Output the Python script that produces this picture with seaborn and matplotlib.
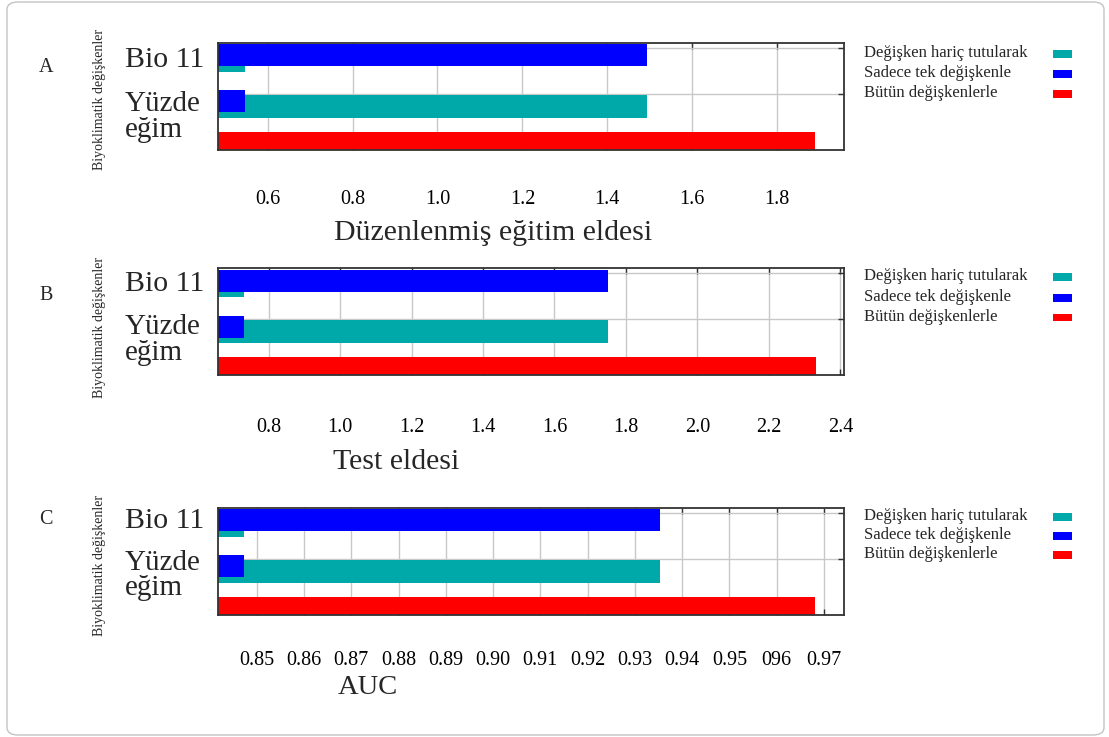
import matplotlib
matplotlib.use("Agg")
import matplotlib.pyplot as plt
from matplotlib.patches import Rectangle, FancyBboxPatch
import seaborn as sns

# ---- data -----------------------------------------------------------------
variables = ["Bio 11", "Yüzde eğim"]
panel_letters = ["A", "B", "C"]
metric_labels = ["Düzenlenmiş eğitim eldesi", "Test eldesi", "AUC"]
series_names = ["Değişken hariç tutularak", "Sadece tek değişkenle", "Bütün değişkenlerle"]
y_axis_title = "Biyoklimatik değişkenler"

# regularized training gain
train_without = [0.546, 1.494]
train_only = [1.494, 0.546]
train_all = 1.890
train_ticks = [0.6, 0.8, 1.0, 1.2, 1.4, 1.6, 1.8]
train_ticklabels = ["0.6", "0.8", "1.0", "1.2", "1.4", "1.6", "1.8"]

# test gain
test_without = [0.732, 1.751]
test_only = [1.751, 0.732]
test_all = 2.333
test_ticks = [0.8, 1.0, 1.2, 1.4, 1.6, 1.8, 2.0, 2.2, 2.4]
test_ticklabels = ["0.8", "1.0", "1.2", "1.4", "1.6", "1.8", "2.0", "2.2", "2.4"]

# AUC
auc_without = [0.8474, 0.9353]
auc_only = [0.9353, 0.8474]
auc_all = 0.9682
auc_ticks = [0.85, 0.86, 0.87, 0.88, 0.89, 0.90, 0.91, 0.92, 0.93, 0.94, 0.95, 0.96, 0.97]
auc_ticklabels = ["0.85", "0.86", "0.87", "0.88", "0.89", "0.90", "0.91",
                  "0.92", "0.93", "0.94", "0.95", "096", "0.97"]

# ---- style ----------------------------------------------------------------
sns.set_style("white")
plt.rcParams["font.family"] = ["Liberation Serif", "DejaVu Serif"]

TEAL = "#00a9a9"
BLUE = "#0000ff"
RED = "#ff0000"
FRAME = "#333333"
GRID = "#c8c8c8"

W, H = 1109, 737
fig = plt.figure(figsize=(W / 100, H / 100), dpi=100)
fig.patch.set_facecolor("white")


def fx(px):
    return px / W


def fy(py):
    return 1 - py / H


# outer rounded frame
fig.patches.append(FancyBboxPatch((fx(7), fy(735)), fx(1104) - fx(7), fy(2) - fy(735),
                                  boxstyle="round,pad=0,rounding_size=0.01",
                                  transform=fig.transFigure, facecolor="none",
                                  edgecolor="#c4c4c4", linewidth=1.0))

panels = [
    dict(top=42.5, without=train_without, only=train_only, all=train_all,
         ticks=train_ticks, ticklabels=train_ticklabels, xlim=(0.482, 1.958),
         pad=29, xlabel_pos=(493, 233), xlabel_size=21.5,
         names_y=(67, 111, 137), legend_y=(53, 73, 93), ylab_y=99, letter_y=67),
    dict(top=268, without=test_without, only=test_only, all=test_all,
         ticks=test_ticks, ticklabels=test_ticklabels, xlim=(0.657, 2.411),
         pad=31, xlabel_pos=(396, 462), xlabel_size=21.5,
         names_y=(291, 334, 360), legend_y=(276, 297, 317), ylab_y=327, letter_y=296),
    dict(top=507.5, without=auc_without, only=auc_only, all=auc_all,
         ticks=auc_ticks, ticklabels=auc_ticklabels, xlim=(0.8417, 0.9743),
         pad=26.5, xlabel_pos=(368, 688), xlabel_size=20.5,
         names_y=(528, 570, 595), legend_y=(516, 535, 554), ylab_y=565, letter_y=519),
]

LEFT, RIGHT, PH = 217.5, 844.3, 107
row_centers = [14, 60]      # vertical centres of the two variable rows (pixel units)
red_center, red_height = 98, 18

for i, p in enumerate(panels):
    top = p["top"]
    ax = fig.add_axes([fx(LEFT), fy(top + PH), fx(RIGHT) - fx(LEFT), PH / H])
    ax.set_xlim(*p["xlim"])
    ax.set_ylim(PH, 0)
    ax.set_axisbelow(True)

    # variable-excluded (teal) under single-variable (blue) bars
    for c, v in zip(row_centers, p["without"]):
        ax.barh(c + 3.5, v, height=23, color=TEAL, linewidth=0)
    for c, v in zip(row_centers, p["only"]):
        ax.barh(c - 1.5, v, height=22, color=BLUE, linewidth=0)
    ax.barh(red_center, p["all"], height=red_height, color=RED, linewidth=0)

    ax.set_xticks(p["ticks"])
    ax.set_xticklabels(p["ticklabels"])
    ax.set_yticks([c - 9 for c in row_centers])
    ax.set_yticklabels([])
    ax.grid(True, color=GRID, linewidth=1.0)
    ax.tick_params(axis="x", which="both", direction="in", length=4, width=1,
                   color=FRAME, top=True, bottom=True, labelsize=14.5,
                   pad=p["pad"], labelcolor="black")
    ax.tick_params(axis="y", direction="in", length=4, width=1, color=FRAME,
                   left=False, right=True)
    for s in ax.spines.values():
        s.set_color(FRAME)
        s.set_linewidth(1.3)
        s.set_visible(True)

    # metric title under the ticks
    fig.text(fx(p["xlabel_pos"][0]), fy(p["xlabel_pos"][1]), metric_labels[i],
             ha="center", va="center", fontsize=p["xlabel_size"])

    # variable names
    y1, y2, y3 = p["names_y"]
    fig.text(fx(125), fy(y1), variables[0], ha="left", va="baseline", fontsize=21.5)
    name_a, name_b = variables[1].split(" ")
    fig.text(fx(125), fy(y2), name_a, ha="left", va="baseline", fontsize=21)
    fig.text(fx(125), fy(y3), name_b, ha="left", va="baseline", fontsize=21)

    # axis title and panel letter
    fig.text(fx(100), fy(p["ylab_y"]), y_axis_title, rotation=90,
             ha="center", va="center", fontsize=10)
    fig.text(fx(46), fy(p["letter_y"]), panel_letters[i], ha="center", va="center",
             fontsize=14.5)

    # legend: text on the left, swatch on the right
    for name, col, ly in zip(series_names, [TEAL, BLUE, RED], p["legend_y"]):
        fig.text(fx(864), fy(ly), name, ha="left", va="center", fontsize=12)
        fig.patches.append(Rectangle((fx(1053), fy(ly + 4.5)), fx(1072) - fx(1053),
                                     8 / H, transform=fig.transFigure,
                                     facecolor=col, edgecolor="none"))

fig.savefig("out.png", dpi=100)
